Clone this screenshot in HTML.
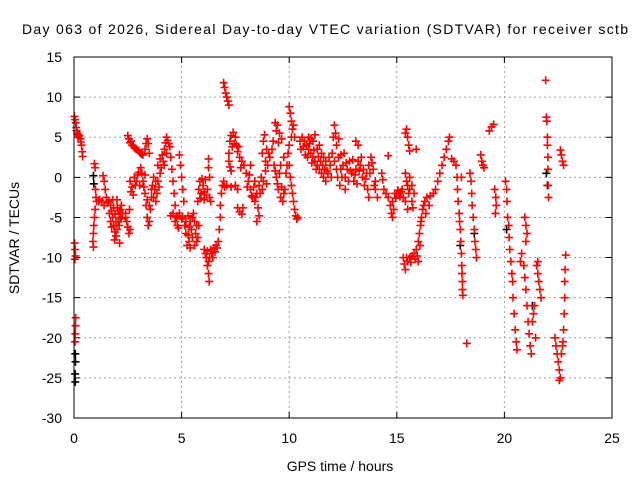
<!DOCTYPE html>
<html><head><meta charset="utf-8"><style>
body{margin:0;background:#fff}
svg{display:block;font-family:"Liberation Sans",sans-serif}
</style></head><body>
<svg id="chart" width="640" height="480" viewBox="0 0 640 480">
<rect width="640" height="480" fill="#fff"/>
<text x="325" y="34" font-size="14" text-anchor="middle" textLength="606">Day 063 of 2026, Sidereal Day-to-day VTEC variation (SDTVAR) for receiver sctb</text>
<text x="340" y="471" font-size="14" text-anchor="middle">GPS time / hours</text>
<text transform="translate(19,238) rotate(-90)" font-size="14" text-anchor="middle">SDTVAR / TECUs</text>
<g id="grid"></g>
<g id="ticks"></g>
<g id="marks"></g>
<rect x="74" y="57" width="538" height="361" fill="none" stroke="#000" stroke-width="1"/>
</svg>
<script>
const xTicks = [0, 5, 10, 15, 20, 25];
const yTicks = [15, 10, 5, 0, -5, -10, -15, -20, -25, -30];
const redPoints = [
[0.02,7.6],[0.05,7.2],[0.08,6.8],[0.1,6.2],[0.12,5.8],[0.15,5.5],[0.18,5.3],[0.2,5.0],[0.25,5.2],[0.3,4.8],[0.32,4.4],[0.35,4.0],[0.38,3.2],[0.4,2.6],
[0.03,-8.2],[0.05,-9],[0.07,-9.8],[0.04,-10.2],[0.08,-17.5],[0.07,-18.5],[0.06,-19.5],[0.05,-20.5],
[0.9,-8.7],[0.88,-8],[0.9,-7],[0.92,-6],[0.95,-5],[0.98,-4],[0.95,1.7],[0.98,1.2],[1.0,-1.5],[1.02,-2.5],[1.05,-3],
[1.15,-3],[1.2,-2.8],[1.3,-3],[1.35,0.2],[1.4,-0.5],[1.45,-1.5],[1.5,-2.5],[1.55,-3.2],[1.4,-3.5],
[1.6,-3],[1.7,-3.5],[1.75,-4.2],[1.8,-5],[1.85,-6],[1.9,-6.8],[1.95,-7.3],[2.0,-6.5],[2.05,-5.5],[2.1,-4.5],[2.15,-4],[2.2,-3.5],[2.25,-4.5],[1.7,-5.5],[1.8,-2.8],[2.0,-3.8],[1.9,-4.6],[2.1,-6],[2.2,-5.2],[2.12,-8.2],
[1.65,-4.5],[1.75,-6.2],[1.85,-3.8],[1.95,-5.5],[2.05,-4.2],[2.15,-5],[1.88,-7.8],[2.0,-2.8],
[2.4,-4.5],[2.45,-5.5],[2.5,-6.2],[2.55,-7],[2.6,-6.5],[2.4,-5],[2.58,-4],
[2.5,5.2],[2.55,4.8],[2.6,4.3],[2.7,4],[2.8,3.7],[2.9,3.5],[3.0,3.3],[3.1,3.0],[3.2,2.8],[3.3,3.5],[3.4,4.8],[3.45,4.2],[3.5,3.0],
[2.65,4.5],[2.75,3.9],[2.85,3.6],[2.95,3.4],[3.05,3.1],[3.15,2.9],[3.35,4.2],
[2.6,-0.5],[2.7,-1.2],[2.8,0],[2.9,-0.5],[3.0,0.6],[3.1,1.2],[3.2,-0.5],[3.3,-2],[3.35,-3.5],[3.4,-5],[3.45,-6],[3.5,-5.5],[3.55,-4],[3.6,-2.5],[3.65,-1],[3.7,0],[3.75,-1.5],[3.8,-3],[3.85,-2],[3.9,-0.5],[4.0,0.5],[4.05,1.2],[3.3,0.3],[2.75,-2.2],
[2.65,-1.8],[2.85,-1],[2.95,0.3],[3.05,-1],[3.15,0.5],[3.25,-1.2],[3.4,-2.8],[3.5,-3.5],[3.6,-1.5],[3.7,-2.5],[3.8,-0.5],[3.95,-1.2],
[3.9,1.5],[4.0,2.3],[4.1,2.8],[4.2,3.5],[4.25,4.3],[4.3,5],[4.35,4.6],[4.2,1.5],[4.15,2],[4.3,3],[4.4,4.2],
[4.45,3.8],[4.5,2.5],[4.55,1],[4.6,-0.5],[4.65,-2],[4.7,-3.5],[4.75,-5],[4.8,-6],[4.85,-6.3],[4.9,2.8],[4.95,1.5],[5.0,0],[5.05,-1.5],[5.1,-3],[4.6,-4.5],[4.8,-4.8],
[4.7,-5.5],[4.9,-4.5],[5.0,-5.2],[4.5,-4.8],
[5.05,-5],[5.15,-6],[5.2,-7],[5.25,-8.5],[5.35,-8],[5.45,-6.5],[5.5,-5],[5.55,-4.5],[5.6,-5.5],[5.65,-7],[5.7,-8],[5.75,-7.5],[5.8,-6],[5.3,-4.8],[5.4,-5.5],
[5.2,-5.5],[5.3,-7.2],[5.4,-8.8],[5.5,-7.5],[5.6,-8.5],[5.7,-6],[5.35,-6.2],
[5.75,-3],[5.8,-1.5],[5.85,-0.5],[5.9,-2],[6.0,-1],[6.1,-0.3],[6.2,-1.5],[6.25,2.3],[6.25,1.2],[6.3,0],[6.3,-2.5],[6.35,-3],[6.05,-2.8],
[5.95,-0.2],[6.05,-1.8],[6.15,-2.2],[5.85,-2.6],
[6.05,-9],[6.1,-9.5],[6.15,-10],[6.2,-11],[6.25,-12],[6.28,-13],[6.3,-10],[6.4,-9.5],[6.5,-8.8],[6.6,-8.5],[6.7,-8],[6.75,-6.5],[6.8,-5],
[6.2,-9.2],[6.35,-9],[6.45,-10],[6.55,-9.3],[6.65,-8.8],[6.25,-10.5],
[6.8,-3.5],[6.85,-2],[6.9,-1],[6.95,-0.5],[7.0,-1.2],[7.1,-1],[7.3,-1.2],[7.5,-1],[7.6,-1.5],
[6.95,11.8],[7.0,11.2],[7.05,10.5],[7.1,10],[7.15,9.5],[7.2,9],
[7.2,3],[7.25,4.5],[7.3,5.2],[7.4,5.6],[7.5,5],[7.55,4],[7.6,3.2],[7.7,2.5],[7.8,2],[7.9,1.5],[7.25,1.3],[7.3,0.8],
[7.35,3.8],[7.45,4.2],[7.65,3.8],[7.75,1.2],[7.2,2],
[7.6,-3.8],[7.7,-4.3],[7.8,-4.6],[7.85,-3.8],
[8.0,0.5],[8.1,-0.5],[8.2,-1.5],[8.3,-2.5],[8.4,-3],[8.5,-2],[8.6,-1],[8.7,0],[8.8,-0.5],[8.9,0.8],[8.2,1.5],[8.4,-0.5],[8.55,-3.8],[8.6,-4.8],[8.5,-5.5],
[8.05,-1.2],[8.15,0.3],[8.25,-2.3],[8.35,-1.2],[8.45,-2.5],[8.65,-2],[8.75,-1.5],[8.95,-0.8],
[8.75,3],[8.8,4.5],[8.85,5.3],[8.9,2],[9.0,1.5],[9.1,2.5],[9.2,3.5],[9.25,4.5],[8.95,3.5],[9.05,3],
[9.3,1.5],[9.4,0],[9.5,-1.5],[9.6,-2.5],[9.7,-3],[9.8,-1.5],[9.85,0.5],[9.6,1.5],[9.75,2.5],
[9.35,0.8],[9.45,-0.8],[9.55,0.5],[9.65,-1.2],[9.75,-2],[9.9,1.5],
[9.35,6.8],[9.45,6.5],[9.55,5.5],[9.65,4.8],[9.5,4.3],[9.4,5.8],
[10.0,8.8],[10.05,8],[10.1,7],[10.15,6],[10.1,5],[10.0,4],[9.95,3],[10.0,1.5],[10.05,0],[10.1,-1],[10.15,-2],[10.2,-3],[10.25,-4],[10.3,-4.8],[10.35,-5.2],[10.4,-5],[10.2,6.5],[10.25,5],
[10.5,4.5],[10.6,5],[10.7,4.5],[10.8,4],[10.9,3.5],[11.0,3],[11.1,2.5],[11.2,2],[11.3,1.5],[11.4,1],[11.5,0.5],[11.6,0],[11.7,-0.5],[11.8,0.5],[11.9,1.5],[12.0,3],[12.05,5],[12.1,6.5],[12.15,5.5],[12.2,4],[12.3,2.5],[12.4,1],[10.9,5],[11.2,5.3],[11.4,4],[11.5,3],[11.6,2.5],[11.1,4.5],[11.3,3.5],[11.7,2],[12.35,-1],[12.25,0],
[10.55,3.5],[10.65,3.8],[10.75,2.8],[10.85,2.5],[10.95,4.2],[11.05,1.8],[11.15,3.4],[11.25,1],[11.35,2.6],[11.45,2],[11.55,1.5],[11.65,1],[11.75,0.8],[11.85,2.5],[11.95,0],[12.1,2],[12.2,1],[12.3,4.8],[12.4,2.8],[11.0,4.8],
[12.5,1.5],[12.6,0],[12.7,1],[12.8,2],[12.9,0.5],[13.0,-0.5],[13.1,1],[13.2,2],[13.3,1.5],[13.4,0],[13.5,-1],[13.6,0.5],[13.7,1.5],[13.8,2.5],[13.9,1],[14.0,-0.5],[14.1,-2.5],[14.0,-1.5],[13.1,4.5],[13.2,4],[12.6,-1.5],[13.7,-2.5],
[12.55,3],[12.65,1.8],[12.75,-0.5],[12.85,0.8],[12.95,2.2],[13.05,0.3],[13.15,-0.8],[13.25,0.8],[13.35,2.5],[13.45,1],[13.55,-0.2],[13.65,-1.5],[13.75,0.5],[13.85,1.8],[13.95,-1],[12.45,0],
[14.3,0.5],[14.35,-0.3],[14.6,2.7],
[14.4,-1.5],[14.5,-2],[14.6,-2.5],[14.7,-3.5],[14.75,-4.5],[14.8,-5],[14.85,-4],[14.9,-2],[15.0,-2],[15.1,-2],[15.2,-1.8],[15.3,-2.5],[15.4,-3],[15.5,-4],[15.55,-2],[15.6,-1.5],[15.7,-3],[15.8,-2],
[14.95,-2.6],[15.05,-1.6],[15.15,-2.4],[15.25,-1.5],[14.8,-3],
[15.4,5.5],[15.45,6],[15.5,5],[15.55,4],[15.6,3.3],[15.9,3.5],
[15.4,0.5],[15.45,-0.5],[15.5,-1],[15.6,0],[15.7,-1],[15.75,-3.8],
[15.3,-10],[15.35,-10.8],[15.4,-11.5],[15.5,-10.5],[15.6,-10],[15.7,-9.8],[15.8,-9.5],[15.9,-9],[16.0,-8],[16.05,-7],[16.1,-6],[16.15,-5],[16.2,-4],[16.3,-3],[16.4,-2.5],[16.5,-3.5],[16.55,-2.3],[16.7,-2],[16.8,-1.5],[16.9,-0.5],[17.0,0.5],[17.1,1.5],[17.2,2.5],[17.3,3.5],[17.4,4.5],[17.45,5],[16.0,-10.5],[15.95,-9.8],
[15.45,-10],[15.65,-10.6],[15.85,-10.2],[16.08,-8.5],[16.12,-5.5],[16.25,-3.5],[16.35,-4.5],
[17.55,2.3],[17.65,2],[17.75,1.5],
[17.8,0],[17.82,-1.5],[17.85,-3],[17.9,-4.5],[17.92,-5.5],[17.95,-6.5],[17.97,-8],[18.0,-9.5],[18.02,-11],[18.03,-12],[18.05,-13],[18.05,-14],[18.07,-14.7],[18.0,0],
[18.25,-20.7],
[18.4,0.5],[18.45,-0.5],[18.48,-2],[18.5,-3.5],[18.55,-5],[18.6,-6.5],[18.63,-8],[18.67,-9],[18.7,-10],
[18.9,2.8],[18.95,2],[19.0,1.5],[19.05,1.2],
[19.3,5.8],[19.4,6.3],[19.5,6.6],
[19.55,-1.5],[19.6,-2.5],[19.62,-3.5],[19.58,-4.5],
[20.05,-0.5],[20.1,-1.5],[20.12,-3],[20.15,-5],[20.2,-6],[20.22,-7.5],[20.25,-9],[20.3,-10.5],[20.35,-12],[20.38,-13],[20.4,-15],[20.45,-17],[20.5,-19],[20.55,-20.5],[20.58,-21.5],
[20.95,-5],[21.0,-6],[21.05,-7],[21.0,-8],
[20.8,-9.5],[20.9,-11],[20.95,-12.5],[21.0,-14],[21.05,-16],[21.1,-18],[21.15,-19.5],[21.2,-21],[21.25,-22],[21.3,-18],[21.35,-17],[21.4,-16],[21.45,-20],[20.75,-10.5],
[21.5,-11],[21.55,-12],[21.6,-13],[21.65,-14],[21.7,-15],[21.55,-10.5],
[21.92,12.1],[21.95,7.5],[21.97,7],[22.0,5],[22.0,4],[22.02,2.5],[22.02,1],[22.03,-1],[22.05,-2.5],
[22.6,3.4],[22.65,2.8],[22.7,2],[22.75,1.5],
[22.35,-20],[22.4,-21],[22.45,-22],[22.5,-23],[22.55,-24],[22.6,-25],[22.55,-25.3],[22.65,-22],[22.7,-21],[22.72,-20.5],[22.75,-19],[22.78,-17],[22.8,-15],[22.8,-13],[22.82,-11.5],[22.85,-9.7]
];
const blackPoints = [
[0.06,-22],[0.07,-23],[0.05,-24.5],[0.06,-25.5],[0.9,0.2],[0.92,-0.8],[21.95,0.5],[22.0,-1],[20.1,-6.5],[17.95,-8.5],[18.6,-7],[21.3,-16]
];

const NS = 'http://www.w3.org/2000/svg';
const X0 = 74, X1 = 612, Y0 = 418, Y1 = 57;
const xMin = 0, xMax = 25, yMin = -30, yMax = 15;
function xs(t){ return X0 + (t - xMin) / (xMax - xMin) * (X1 - X0); }
function ys(v){ return Y0 - (v - yMin) / (yMax - yMin) * (Y0 - Y1); }
function mk(tag, attrs, parent){
  const el = document.createElementNS(NS, tag);
  for (const k in attrs) el.setAttribute(k, attrs[k]);
  parent.appendChild(el);
  return el;
}
const grid = document.getElementById('grid');
const ticks = document.getElementById('ticks');
const marks = document.getElementById('marks');

xTicks.forEach(t => {
  const x = xs(t);
  if (t > xMin && t < xMax) {
    const g = mk('line', {x1:x, y1:Y0, x2:x, y2:Y1, stroke:'#a0a0a0', 'stroke-dasharray':'2,3'}, grid);
    
    
  }
  const tk = mk('path', {d:`M${x},${Y0}v-6M${x},${Y1}v6`, stroke:'#000'}, ticks);
  
  
  const lb = mk('text', {x:x, y:443, 'font-size':14, 'text-anchor':'middle'}, ticks);
  lb.textContent = t;
  
  
});
yTicks.forEach(v => {
  const y = ys(v);
  if (v > yMin && v < yMax) {
    const g = mk('line', {x1:X0, y1:y, x2:X1, y2:y, stroke:'#a0a0a0', 'stroke-dasharray':'2,3'}, grid);
    
    
  }
  const tk = mk('path', {d:`M${X0},${y}h6M${X1},${y}h-6`, stroke:'#000'}, ticks);
  
  
  const lb = mk('text', {x:62, y:y + 5, 'font-size':14, 'text-anchor':'end'}, ticks);
  lb.textContent = v;
  
  
});

function drawSeries(points, color, name){
  let d = '';
  points.forEach(p => {
    const x = xs(p[0]), y = ys(p[1]);
    d += `M${(x-4).toFixed(1)},${y.toFixed(1)}h8M${x.toFixed(1)},${(y-4).toFixed(1)}v8`;
  });
  const path = mk('path', {d:d, stroke:color, 'stroke-width':1.6, fill:'none'}, marks);
  
  
}
drawSeries(blackPoints, '#000', 'black-series-points');
drawSeries(redPoints, '#ff0000', 'red-series-points');
</script>
</body></html>
